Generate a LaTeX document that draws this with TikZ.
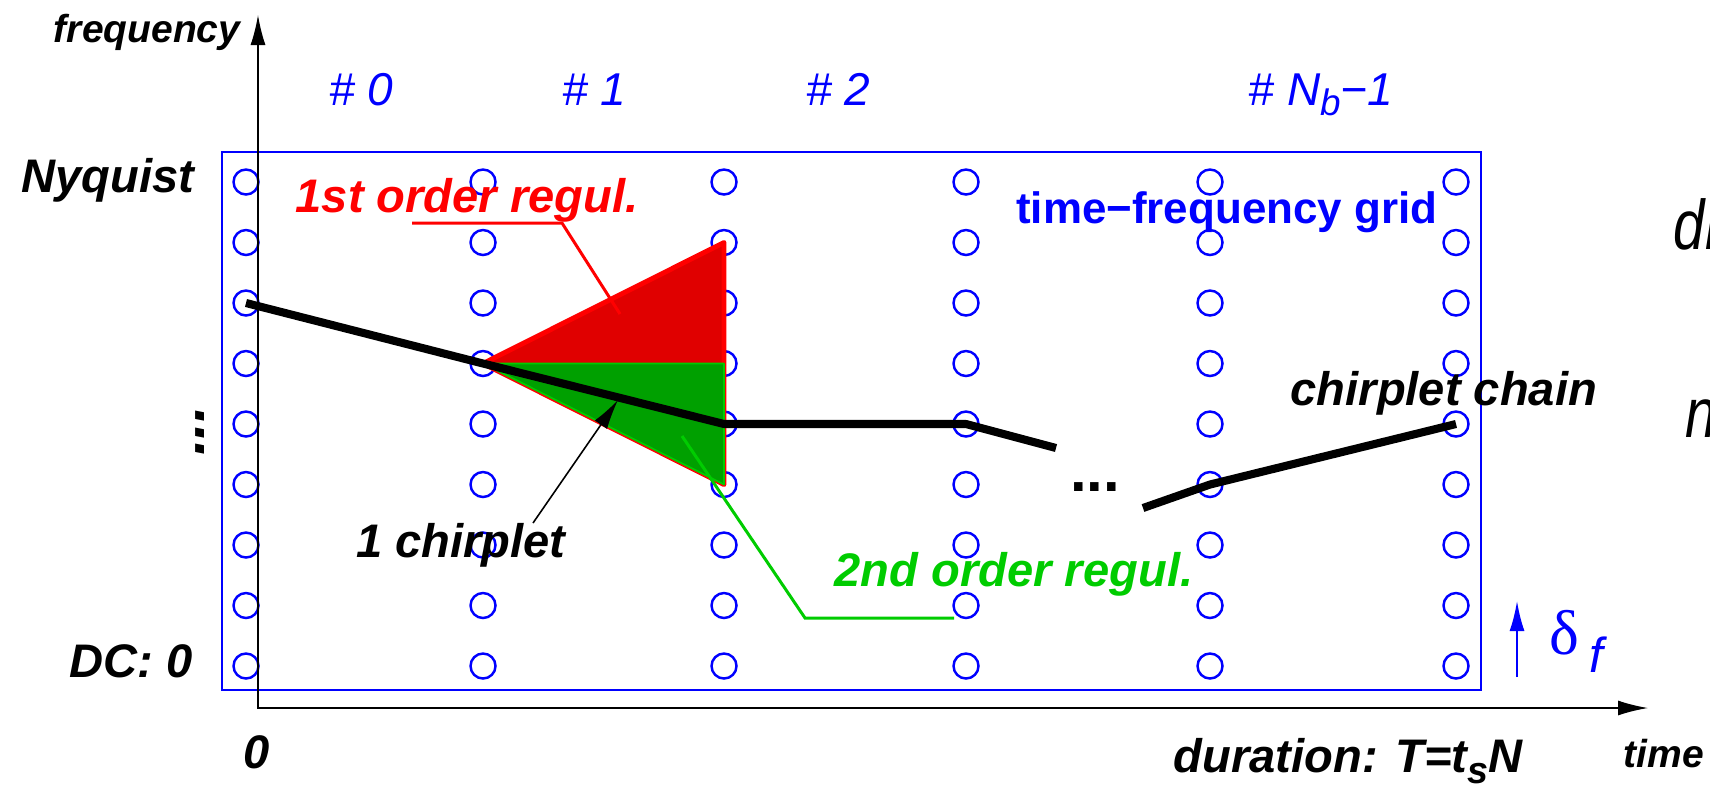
\documentclass[tikz,border=0pt]{standalone}
\usepackage{fontspec}
\usepackage{graphicx}
\setmainfont{Liberation Sans}
\newfontfamily\greekfont{Liberation Serif}
\newfontfamily\thinfont[FakeStretch=0.8]{Liberation Sans}
\usetikzlibrary{arrows.meta,positioning,calc}
\definecolor{GridBlue}{HTML}{0000FF}
\definecolor{RegRed}{HTML}{FF0000}
\definecolor{RegRedFill}{HTML}{E00000}
\definecolor{RegGreen}{HTML}{00CC00}
\definecolor{RegGreenFill}{HTML}{00A000}
\newcommand{\lowidx}[1]{\raisebox{-0.45ex}{\scalebox{0.8}{#1}}}

\begin{document}
\begin{tikzpicture}[>={Latex[length=3mm,width=1.5mm]},
  lbl/.style={font=\fontsize{13.4}{16}\selectfont\bfseries\itshape,inner sep=0pt},
  bin/.style={font=\fontsize{13.1}{16}\selectfont\itshape,text=GridBlue,inner sep=0pt,anchor=base},
  tf/.style={draw=GridBlue,circle,line width=.7pt,minimum size=.25cm,inner sep=0pt},
  chain/.style={line width=2.3pt,line join=round}]
\useasboundingbox (0,0) rectangle (17.1,7.87);
% time-frequency grid
\draw[GridBlue,line width=.7pt] (2.22,0.97) rectangle (14.81,6.35);
\foreach \x [count=\i from 0] in {2.46,4.83,7.24,9.66,12.10,14.56}
  \foreach \r in {0,...,8}
    \node[tf] (g-\i-\r) at (\x,1.21+0.605*\r) {};
% axes
\coordinate (ftip) at (2.58,7.72);
\coordinate (ttip) at (16.48,0.79);
\draw[<->,line width=.45pt] (ftip) |- (ttip);
\node[lbl,font=\fontsize{11.1}{13}\selectfont\bfseries\itshape,anchor=base east] (freq) at (2.41,7.45) {frequency};
\node[lbl,font=\fontsize{11.1}{13}\selectfont\bfseries\itshape,anchor=base west] (time) at (16.23,0.20) {time};
\node[lbl,anchor=base] (zero) at (2.57,0.19) {0};
\node[lbl,anchor=base east] (dur) at (15.23,0.15) {duration: T=t\lowidx{s}N};
\node[lbl,anchor=base east] (nyq) at (1.95,5.95) {Nyquist};
\node[lbl,anchor=base east] (dc) at (1.93,1.10) {DC: 0};
\node[lbl,font=\fontsize{17}{20}\selectfont\bfseries\itshape,rotate=90] (vdots) at (2.00,3.56) {...};
% bin numbers
\node[bin] (b0) at (3.61,6.82) {\# 0};
\node[bin] (b1) at (5.94,6.82) {\# 1};
\node[bin] (b2) at (8.38,6.82) {\# 2};
\node[bin] (bn) at (13.21,6.82) {\# N\lowidx{b}−1};
\node[font=\fontsize{12.5}{15}\selectfont\bfseries,text=GridBlue,inner sep=0pt,anchor=base east] (tfg) at (14.38,5.64) {time−frequency grid};
% regularisation triangles
\filldraw[fill=RegRedFill,draw=RegRed,line width=1.4pt,line join=round] (g-1-5.center) -- (g-2-7.center) -- (g-2-3.center) -- cycle;
\filldraw[fill=RegGreenFill,draw=RegGreen,line width=.5pt,line join=round] (g-1-5.center) -- (g-2-5.center) -- (g-2-3.center) -- cycle;
% chirplet chain
\coordinate (brk1) at (10.56,3.39);
\coordinate (brk2) at (11.43,2.79);
\draw[chain] (g-0-6.center) -- (g-1-5.center) -- (g-2-4.center) -- (g-3-4.center) -- (brk1);
\node[font=\fontsize{17}{20}\selectfont\bfseries,inner sep=0pt] (hdots) at (10.95,3.00) {...};
\draw[chain] (brk2) -- (g-4-3.center) -- (g-5-4.center);
\node[lbl,anchor=base west] (chainlbl) at (12.90,3.82) {chirplet chain};
% labels with pointers
\node[lbl,text=RegRed,anchor=base west] (reg1) at (2.95,5.75) {1st order regul.};
\coordinate (r1a) at (4.12,5.64);
\coordinate (r1b) at (5.62,5.64);
\coordinate (r1c) at (6.20,4.73);
\draw[RegRed,line width=.85pt] (r1a) -- (r1b) -- (r1c);
\node[lbl,anchor=base] (onelbl) at (4.61,2.30) {1 chirplet};
\coordinate (c1a) at (5.33,2.64);
\coordinate (c1b) at (6.18,3.87);
\draw[->,line width=.45pt] (c1a) -- (c1b);
\node[lbl,text=RegGreen,anchor=base west] (reg2) at (8.34,2.01) {2nd order regul.};
\coordinate (r2a) at (9.54,1.69);
\coordinate (r2b) at (8.05,1.69);
\coordinate (r2c) at (6.82,3.51);
\draw[RegGreen,line width=.85pt] (r2a) -- (r2b) -- (r2c);
% frequency step
\coordinate (dfa) at (15.17,1.10);
\coordinate (dfb) at (15.17,1.86);
\draw[->,GridBlue,line width=.6pt] (dfa) -- (dfb);
\node[text=GridBlue,inner sep=0pt,anchor=base west] (dfl) at (15.49,1.33) {{\greekfont\fontsize{18}{20}\selectfont δ}\hspace{0.1cm}\raisebox{-0.18cm}{\fontsize{14}{16}\selectfont\itshape f}};
% cut-off text at the right edge
\node[font=\thinfont\itshape\fontsize{20}{24}\selectfont,inner sep=0pt,anchor=base west] (edge1) at (16.73,5.38) {dr};
\node[font=\thinfont\itshape\fontsize{20}{24}\selectfont,inner sep=0pt,anchor=base west] (edge2) at (16.85,3.50) {n};
\end{tikzpicture}
\end{document}
